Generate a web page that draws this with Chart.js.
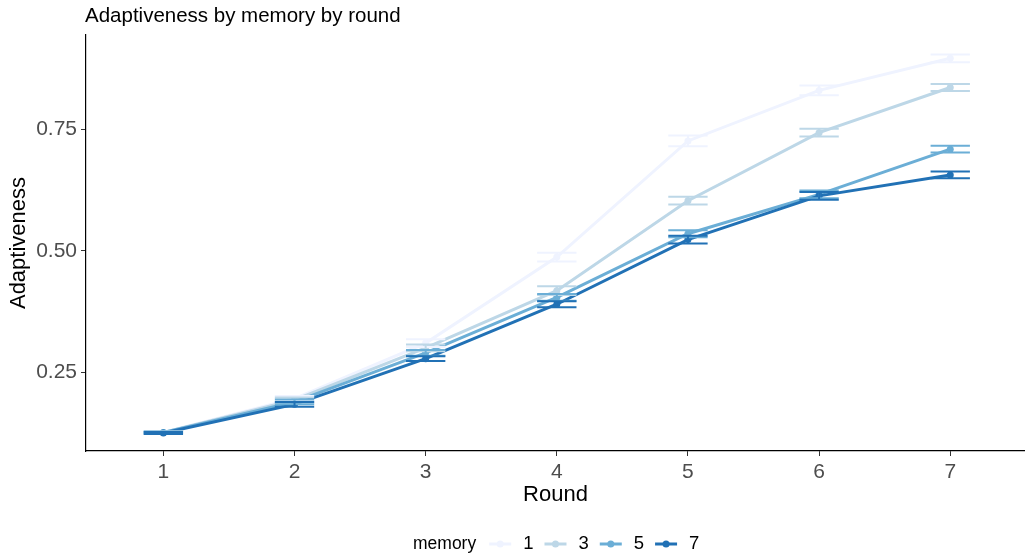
<!DOCTYPE html>
<html>
<head>
<meta charset="utf-8">
<script src="https://cdn.jsdelivr.net/npm/chart.js@4.4.1/dist/chart.umd.min.js"></script>
<style>
  html, body { margin: 0; padding: 0; background: #ffffff; }
  #wrap { width: 1025px; height: 558px; }
</style>
</head>
<body>
<div id="wrap"><canvas id="chart" width="1025" height="558"></canvas></div>
<script>
// Rounds on the x axis
const rounds = [1, 2, 3, 4, 5, 6, 7];

// Memory groups (legend keys)
const memoryLevels = ['1', '3', '5', '7'];

// Mean adaptiveness per round, one array per memory group
const meanMem1 = [0.126, 0.196, 0.310, 0.487, 0.726, 0.830, 0.896];
const meanMem3 = [0.126, 0.193, 0.300, 0.418, 0.603, 0.743, 0.836];
const meanMem5 = [0.126, 0.189, 0.290, 0.404, 0.535, 0.616, 0.709];
const meanMem7 = [0.125, 0.184, 0.278, 0.390, 0.523, 0.613, 0.656];

// Half-width of the error bars per round
const errMem1 = [0.002, 0.005, 0.008, 0.009, 0.011, 0.010, 0.008];
const errMem3 = [0.002, 0.005, 0.007, 0.009, 0.008, 0.008, 0.007];
const errMem5 = [0.002, 0.005, 0.006, 0.007, 0.007, 0.008, 0.007];
const errMem7 = [0.002, 0.005, 0.005, 0.006, 0.008, 0.008, 0.007];

// Y axis tick values
const yTickValues = [0.25, 0.50, 0.75];

const seriesColors = ['#EFF3FF', '#BDD7E7', '#6BAED6', '#2171B5'];
const means = [meanMem1, meanMem3, meanMem5, meanMem7];
const errors = [errMem1, errMem3, errMem5, errMem7];

const FONT = '"Liberation Sans", Arial, Helvetica, sans-serif';

const datasets = memoryLevels.map((m, i) => ({
  label: m,
  data: rounds.map((r, j) => ({ x: r, y: means[i][j] })),
  borderColor: seriesColors[i],
  backgroundColor: seriesColors[i],
  borderWidth: 3,
  pointRadius: 3.5,
  pointBorderWidth: 0,
  pointBackgroundColor: seriesColors[i],
  tension: 0,
  order: memoryLevels.length - i
}));

// Error bars drawn on top of the lines
const errorBars = {
  id: 'errorBars',
  afterDatasetsDraw(chart) {
    const { ctx, scales: { x, y } } = chart;
    ctx.save();
    ctx.lineWidth = 2;
    means.forEach((series, i) => {
      ctx.strokeStyle = seriesColors[i];
      series.forEach((v, j) => {
        const cx = x.getPixelForValue(rounds[j]);
        const xl = x.getPixelForValue(rounds[j] - 0.15);
        const xr = x.getPixelForValue(rounds[j] + 0.15);
        const yt = y.getPixelForValue(v + errors[i][j]);
        const yb = y.getPixelForValue(v - errors[i][j]);
        ctx.beginPath();
        ctx.moveTo(xl, yt); ctx.lineTo(xr, yt);
        ctx.moveTo(xl, yb); ctx.lineTo(xr, yb);
        ctx.moveTo(cx, yt); ctx.lineTo(cx, yb);
        ctx.stroke();
      });
    });
    ctx.restore();
  }
};

// Plot title and bottom legend
const annotations = {
  id: 'annotations',
  afterDraw(chart) {
    const { ctx } = chart;
    ctx.save();
    ctx.fillStyle = '#000000';
    ctx.textBaseline = 'alphabetic';
    ctx.textAlign = 'left';
    ctx.font = '20.5px ' + FONT;
    ctx.fillText('Adaptiveness by memory by round', 85, 22);

    // legend
    const ly = 544;
    ctx.font = '17.5px ' + FONT;
    ctx.textBaseline = 'middle';
    let cx = 413;
    ctx.fillText('memory', cx, ly);
    cx += ctx.measureText('memory').width + 13;
    ctx.font = '18.5px ' + FONT;
    memoryLevels.forEach((m, i) => {
      ctx.strokeStyle = seriesColors[i];
      ctx.fillStyle = seriesColors[i];
      ctx.lineWidth = 3;
      ctx.beginPath();
      ctx.moveTo(cx, ly); ctx.lineTo(cx + 22, ly);
      ctx.stroke();
      ctx.beginPath();
      ctx.arc(cx + 11, ly, 3.5, 0, Math.PI * 2);
      ctx.fill();
      cx += 22 + 12;
      ctx.fillStyle = '#000000';
      ctx.fillText(m, cx, ly);
      cx += ctx.measureText(m).width + 11;
    });
    ctx.restore();
  }
};

new Chart(document.getElementById('chart'), {
  type: 'line',
  data: { datasets },
  options: {
    responsive: false,
    animation: false,
    devicePixelRatio: 1,
    layout: { autoPadding: false, padding: { top: 35, right: 0, bottom: 49, left: 0 } },
    plugins: {
      legend: { display: false },
      tooltip: { enabled: false },
      title: { display: false }
    },
    scales: {
      x: {
        type: 'linear',
        min: 0.41,
        max: 7.57,
        afterBuildTicks(scale) { scale.ticks = rounds.map(v => ({ value: v })); },
        afterFit(scale) {
          scale.height = 58;
          scale.paddingLeft = 0;
          scale.paddingRight = 0;
        },
        grid: { display: true, drawOnChartArea: false, drawTicks: true, tickLength: 5, color: '#333333', lineWidth: 1 },
        border: { display: true, color: '#000000', width: 1.2 },
        ticks: { color: '#4D4D4D', font: { family: FONT, size: 21 }, padding: 4, callback: v => String(v) },
        title: { display: true, text: 'Round', color: '#000000', font: { family: FONT, size: 22 }, padding: { top: 0, bottom: 1 } }
      },
      y: {
        type: 'linear',
        min: 0.088,
        max: 0.944,
        afterBuildTicks(scale) { scale.ticks = yTickValues.map(v => ({ value: v })); },
        afterFit(scale) { scale.width = 86; },
        grid: { display: true, drawOnChartArea: false, drawTicks: true, tickLength: 5, color: '#333333', lineWidth: 1 },
        border: { display: true, color: '#000000', width: 1.2 },
        ticks: { color: '#4D4D4D', font: { family: FONT, size: 21 }, padding: 4, callback: v => v.toFixed(2) },
        title: { display: true, text: 'Adaptiveness', color: '#000000', font: { family: FONT, size: 22 }, padding: { top: 6, bottom: 0 } }
      }
    }
  },
  plugins: [errorBars, annotations]
});
</script>
</body>
</html>
